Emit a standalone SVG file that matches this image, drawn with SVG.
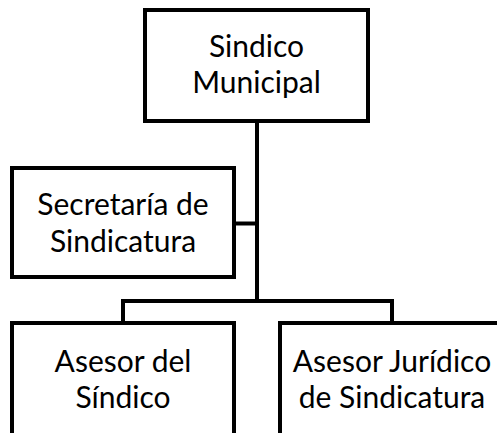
<svg xmlns="http://www.w3.org/2000/svg" width="497" height="433" viewBox="0 0 497 433">
<style>
.box{fill:#fff;stroke:#000;stroke-width:4}
.t{font-family:Lato,"Open Sans","Liberation Sans",sans-serif;font-size:30px;fill:#000;text-anchor:middle}
.c{fill:none;stroke:#000;stroke-width:4}
</style>
<rect width="497" height="433" fill="#fff"/>
<g id="connectors">
<path class="c" d="M257 121 V301"/>
<path class="c" d="M234 223.5 H257"/>
<path class="c" d="M123 323 V301 H392 V323"/>
</g>
<g id="sindico">
<rect class="box" x="145" y="10" width="223" height="111"/>
<text class="t" x="256.5" y="57">Sindico</text>
<text class="t" x="256.5" y="93">Municipal</text>
</g>
<g id="secretaria">
<rect class="box" x="12" y="168" width="222" height="109"/>
<text class="t" x="123" y="215">Secretaría de</text>
<text class="t" x="123" y="252">Sindicatura</text>
</g>
<g id="asesor">
<rect class="box" x="12" y="323" width="222" height="112"/>
<text class="t" x="123" y="372">Asesor del</text>
<text class="t" x="123" y="408">Síndico</text>
</g>
<g id="juridico">
<rect class="box" x="280" y="323" width="224" height="112"/>
<text class="t" x="392" y="372">Asesor Jurídico</text>
<text class="t" x="392" y="408">de Sindicatura</text>
</g>
</svg>
